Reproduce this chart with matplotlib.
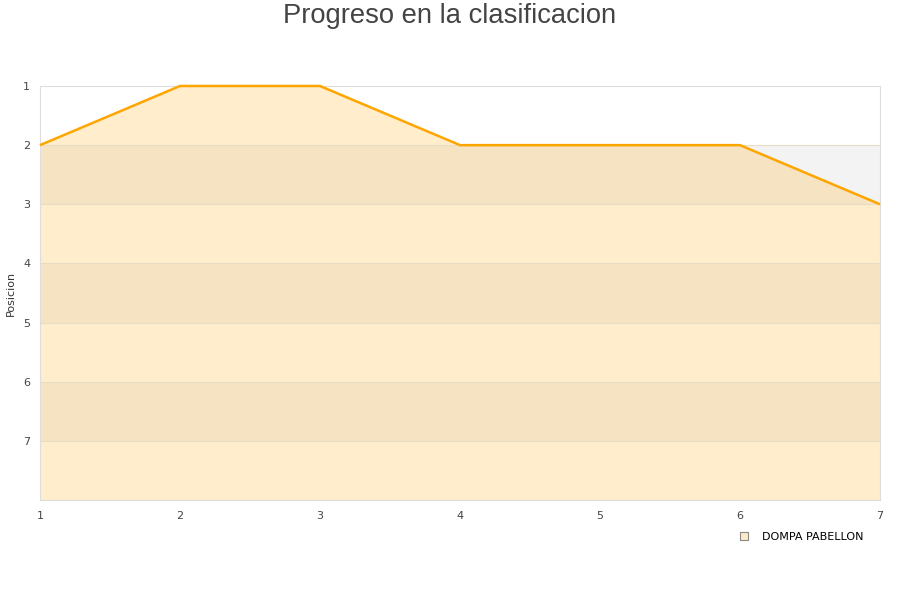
import matplotlib
matplotlib.use("Agg")
import matplotlib.pyplot as plt
from matplotlib.lines import Line2D

jornadas = [1, 2, 3, 4, 5, 6, 7]
posicion = [2, 1, 1, 2, 2, 2, 3]
equipo = "DOMPA PABELLON"
y_ticks = [1, 2, 3, 4, 5, 6, 7]
n_max = 8

fig = plt.figure(figsize=(9, 6), dpi=100)
ax = fig.add_axes([40/900, 100/600, 840/900, 414/600])

# alternating background bands
for k in range(1, n_max):
    col = "white" if k % 2 == 1 else "#f3f3f3"
    ax.axhspan(k, k + 1, color=col, zorder=0, lw=0)
for k in range(2, n_max):
    ax.axhline(k, color="#e8dcc4", lw=0.8, zorder=2.5)

ax.fill_between(jornadas, posicion, n_max, color="#ffa500", alpha=0.2, lw=0, zorder=2)
ax.plot(jornadas, posicion, color="#ffa500", lw=1.8, zorder=3, solid_capstyle="butt",
        clip_on=False)

ax.set_xlim(1, 7)
ax.set_ylim(n_max, 1)
ax.set_xticks(jornadas)
ax.set_yticks(y_ticks)
ax.tick_params(length=0, labelsize=8, colors="#444444", pad=8)
ax.tick_params(axis="y", pad=7)
for s in ax.spines.values():
    s.set_color("#dddddd")
    s.set_linewidth(0.8)

ax.set_ylabel("Posicion", fontsize=8, color="#333333")
ax.yaxis.set_label_coords(-24/840, 0.5)
fig.text(0.5, 1 - 16/600, "Progreso en la clasificacion", ha="center", va="center",
         fontsize=19.7, color="#444444", family="Liberation Sans")

handle = Line2D([], [], marker="s", ls="none", markersize=6,
                markerfacecolor="#fdebc8", markeredgecolor="#888888", markeredgewidth=0.8)
fig.legend([handle], [equipo], loc="center right", bbox_to_anchor=(868/900, 1 - 537/600),
           frameon=False, fontsize=8, handletextpad=0.6, borderaxespad=0)

fig.savefig("out.png", dpi=100)
